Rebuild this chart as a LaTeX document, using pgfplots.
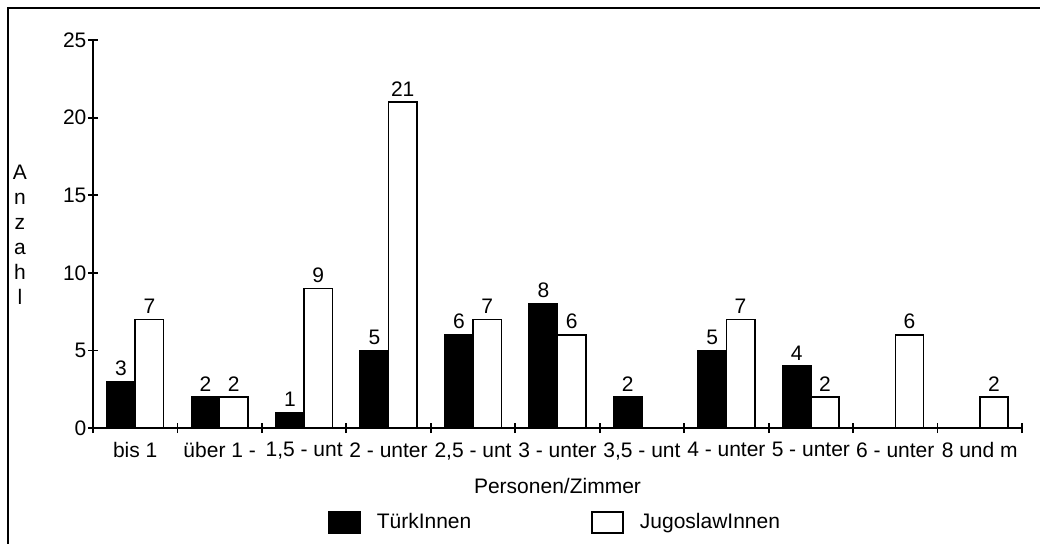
\documentclass[border=0pt]{standalone}
\usepackage{fontspec}
\setmainfont{Liberation Sans}
\usepackage{pgfplots}
\pgfplotsset{compat=1.18}
\begin{document}
\fontsize{10.5}{12.6}\selectfont
\begin{tikzpicture}[x=1pt,y=1pt]
\path[use as bounding box] (-46.5,-57.5) rectangle (473.5,214);
\draw[line width=1.3pt] (-42.5,-60) -- (-42.5,210) -- (476,210);
\begin{axis}[
  at={(0,0)}, anchor=south west, scale only axis,
  width=464.5pt, height=194pt,
  xmin=0, xmax=11, ymin=0, ymax=25,
  ybar=0pt, bar width=14.15pt,
  axis x line=bottom, axis y line=left,
  axis line style={-, line width=0.9pt},
  every tick/.style={black, line width=0.9pt},
  ytick={0,5,...,25},
  xtick={0,...,11},
  xticklabels={bis 1,über 1 -,{1,5 - unt},2 - unter,{2,5 - unt},3 - unter,{3,5 - unt},4 - unter,5 - unter,6 - unter,8 und m,},
  xticklabel style={xshift=21.11pt, yshift=-1pt},
  yticklabel style={inner sep=0.6pt},
  major tick length=5pt, tick align=center,
  /pgf/number format/assume math mode=true,
  tick label style={font=\fontsize{10.5}{12.6}\selectfont},
  xlabel={Personen/Zimmer},
  xlabel style={at={(axis description cs:0.5,0)}, anchor=base, yshift=-32.5pt, inner sep=0pt, font=\fontsize{10.5}{12.6}\selectfont},
  legend columns=2,
  legend style={at={(axis description cs:0,0)}, anchor=west, xshift=117.4pt, yshift=-47.2pt,
    draw=none, fill=none, inner sep=0pt, font=\fontsize{10.5}{12.6}\selectfont,
    /tikz/every odd column/.append style={column sep=6pt},
    /tikz/every even column/.append style={column sep=58pt}},
  legend image code/.code={\draw[#1, line width=0.8pt] (0pt,-5.25pt) rectangle (15.5pt,5.25pt);},
  nodes near coords,
  nodes near coords style={font=\fontsize{10.5}{12.6}\selectfont, inner sep=2.5pt, anchor=south},
]
\addplot[fill=black, draw=black, line width=0.8pt]
  coordinates {(0.5,3) (1.5,2) (2.5,1) (3.5,5) (4.5,6) (5.5,8) (6.5,2) (7.5,5) (8.5,4)};
\addlegendentry{TürkInnen}
\addplot[fill=white, draw=black, line width=0.8pt]
  coordinates {(0.5,7) (1.5,2) (2.5,9) (3.5,21) (4.5,7) (5.5,6) (7.5,7) (8.5,2) (9.5,6) (10.5,2)};
\addlegendentry{JugoslawInnen}
\end{axis}
\node[align=center, inner sep=0pt, font=\fontsize{10.5}{12.5}\selectfont] at (-36.5,96.5) {A\\n\\z\\a\\h\\l};
\end{tikzpicture}
\end{document}
